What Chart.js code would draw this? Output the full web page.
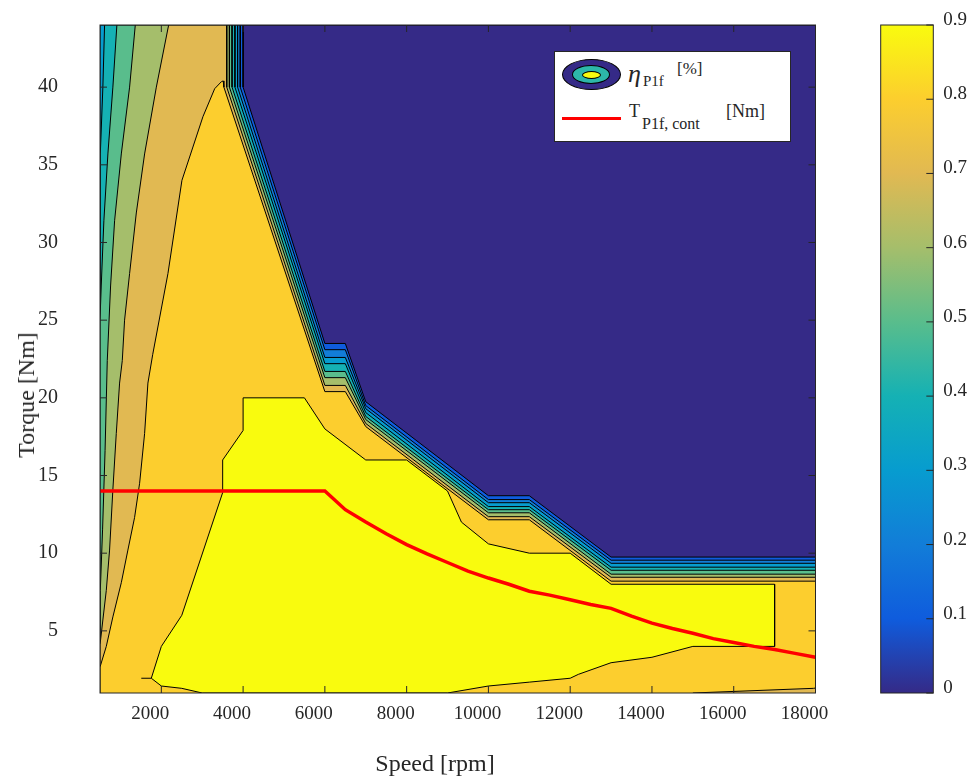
<!DOCTYPE html>
<html>
<head>
<meta charset="UTF-8">
<title>Efficiency map</title>
<script src="https://cdn.jsdelivr.net/npm/chart.js"></script>
<style>
  body { margin: 0; background: #fff; }
  #wrap { position: relative; width: 975px; height: 778px; font-family: 'Liberation Serif', 'Times New Roman', serif; color: #262626; }
  #main { position: absolute; left: 0; top: 0; }
  #cbar { position: absolute; left: 860px; top: 0; }
  .axtitle { position: absolute; font-size: 24px; line-height: 1; white-space: nowrap; transform: translate(-50%, -50%); }
  .axtitle.vert { transform: translate(-50%, -50%) rotate(-90deg); }
  .legend { position: absolute; left: 554px; top: 51px; width: 237px; height: 91px; background: #fff; border: 1px solid #262626; box-sizing: border-box; }
  .legend span { position: absolute; line-height: 1; white-space: nowrap; color: #262626; }
  .ell { position: absolute; border: 1.5px solid #000; border-radius: 50%; box-sizing: border-box; }
</style>
</head>
<body>
<div id="wrap">
  <canvas id="main" width="860" height="778"></canvas>
  <canvas id="cbar" width="115" height="778"></canvas>
  <div class="axtitle" style="left:435px;top:763px;">Speed [rpm]</div>
  <div class="axtitle vert" style="left:26px;top:395px;">Torque [Nm]</div>
  <div class="legend">
    <div class="ell" style="left:7px;top:7px;width:59px;height:31px;background:#352a87;"></div>
    <div class="ell" style="left:17px;top:13px;width:38px;height:19px;background:#2db7a9;"></div>
    <div class="ell" style="left:27px;top:19px;width:19px;height:8px;background:#f9fb0e;"></div>
    <span style="left:73px;top:9px;font-size:26px;font-style:italic;">&eta;</span>
    <span style="left:88px;top:22px;font-size:15px;">P1f</span>
    <span style="left:122px;top:8px;font-size:17px;">[%]</span>
    <div style="position:absolute;left:7px;top:65px;width:59px;height:3px;background:#ff0000;"></div>
    <span style="left:74px;top:50px;font-size:18px;">T</span>
    <span style="left:87px;top:64px;font-size:16px;">P1f, cont</span>
    <span style="left:171px;top:50px;font-size:18px;">[Nm]</span>
  </div>
</div>
<script>
// axis ticks
const xTicks = [2000, 4000, 6000, 8000, 10000, 12000, 14000, 16000, 18000];
const yTicks = [5, 10, 15, 20, 25, 30, 35, 40];
const cbTicks = [0, 0.1, 0.2, 0.3, 0.4, 0.5, 0.6, 0.7, 0.8, 0.9];

// contour levels and their parula colours
const levels = [0, 0.1, 0.2, 0.3, 0.4, 0.5, 0.6, 0.7, 0.8, 0.9];
const levelColors = ['#352a87', '#0f5cdd', '#127dd8', '#079ccf', '#15b1b4', '#59bd8c', '#a5be6b', '#e1b952', '#fcce2e', '#f9fb0e'];

// region where efficiency >= level, [speed rpm, torque Nm]
const eta00 = [[500, 1], [500, 44], [18000, 44], [18000, 1]];
const eta01 = [[500, 1], [500, 44], [4000, 44], [4000, 40], [6000, 23.5], [6500, 23.5], [7000, 19.75], [10000, 13.7], [11000, 13.7], [13000, 9.75], [18000, 9.75], [18000, 1]];
const eta02 = [[500, 1], [500, 44], [3930, 44], [3930, 40], [6000, 23.1], [6500, 23.1], [7000, 19.5], [10000, 13.45], [11000, 13.45], [13000, 9.55], [18000, 9.55], [18000, 1]];
const eta03 = [[500, 1], [500, 44], [3865, 44], [3865, 40], [6000, 22.6], [6500, 22.6], [7000, 19.3], [10000, 13.25], [11000, 13.25], [13000, 9.35], [18000, 9.35], [18000, 1]];
const eta04 = [[500, 1], [500, 33.6], [515, 35.7], [570, 40], [612, 44], [3800, 44], [3800, 40], [6000, 22.2], [6500, 22.2], [7000, 19.05], [10000, 13.0], [11000, 13.0], [13000, 9.1], [18000, 9.1], [18000, 1]];
const eta05 = [[500, 1], [500, 25], [530, 27.2], [595, 31.4], [693, 35.7], [815, 40], [913, 44], [3730, 44], [3730, 40], [6000, 21.7], [6500, 21.7], [7000, 18.8], [10000, 12.8], [11000, 12.8], [13000, 8.9], [18000, 8.9], [18000, 1]];
const eta06 = [[500, 1], [500, 6.0], [515, 7.6], [563, 11.5], [624, 16.6], [678, 22.4], [759, 27.2], [857, 31.4], [1021, 35.7], [1224, 40], [1363, 44], [3665, 44], [3665, 40], [6000, 21.3], [6500, 21.3], [7000, 18.6], [10000, 12.6], [11000, 12.6], [13000, 8.65], [18000, 8.65], [18000, 1]];
const eta07 = [[500, 1], [500, 4.1], [570, 5.7], [654, 7.6], [734, 10.2], [815, 14.1], [898, 17.7], [979, 20.95], [1045, 22.4], [1101, 25], [1224, 28], [1388, 31.9], [1591, 35.7], [1878, 40], [2179, 44], [3600, 44], [3600, 40], [6000, 20.8], [6500, 20.8], [7000, 18.35], [10000, 12.35], [11000, 12.35], [13000, 8.45], [18000, 8.45], [18000, 1]];
const eta08 = [[500, 1], [500, 2.67], [654, 4.0], [815, 5.9], [1021, 8.1], [1182, 10.2], [1346, 12.3], [1469, 14.5], [1591, 17.7], [1672, 20.95], [1790, 22.8], [2162, 28], [2504, 34], [3018, 38.1], [3305, 39.9], [3469, 40.35], [3513, 40.4], [3530, 40], [6000, 20.4], [6500, 20.4], [7000, 18.15], [10000, 12.15], [11000, 12.15], [13000, 8.2], [18000, 8.2], [18000, 1.32], [17950, 1.3], [15000, 1]];
const eta09 = [[1510, 1.95], [1755, 1.95], [2000, 4], [2500, 6], [3500, 13.9], [3500, 16], [4000, 17.9], [4000, 20], [5500, 20], [6000, 18], [7000, 16], [8000, 16], [9000, 14], [9340, 12], [10000, 10.6], [11000, 10], [12000, 10], [13000, 8], [17000, 8], [17000, 4], [15000, 4], [14000, 3.3], [13000, 2.95], [12200, 2.2], [12000, 1.95], [11000, 1.7], [10000, 1.45], [9000, 1], [3000, 1], [2500, 1.3], [2000, 1.45], [1755, 1.95]];
const etaRegions = [eta00, eta01, eta02, eta03, eta04, eta05, eta06, eta07, eta08, eta09];

// continuous torque limit
const speedCont = [500, 6000, 6500, 7000, 7500, 8000, 8500, 9000, 9500, 10000, 10500, 11000, 11500, 12000, 12500, 13000, 13500, 14000, 14500, 15000, 15500, 16000, 16500, 17000, 17500, 18000];
const torqueCont = [14, 14, 12.8, 12.0, 11.25, 10.55, 9.95, 9.4, 8.85, 8.4, 8.0, 7.55, 7.3, 7.0, 6.7, 6.45, 5.95, 5.5, 5.15, 4.85, 4.5, 4.25, 4.0, 3.8, 3.55, 3.3];

const axisColor = '#262626';
const serif = "'Liberation Serif', 'Times New Roman', serif";

const datasets = etaRegions.map((pts, i) => ({
    label: 'eta ' + levels[i],
    data: pts.map(p => ({ x: p[0], y: p[1] })),
    showLine: true,
    fill: 'shape',
    backgroundColor: levelColors[i],
    borderColor: '#000',
    borderWidth: 1,
    pointRadius: 0,
    order: 20 - i
}));
datasets.push({
    label: 'T cont',
    data: speedCont.map((s, i) => ({ x: s, y: torqueCont[i] })),
    showLine: true,
    fill: false,
    borderColor: '#ff0000',
    borderWidth: 3.5,
    pointRadius: 0,
    order: 0
});

// MATLAB style box with inward ticks
const boxTicks = {
    id: 'boxTicks',
    afterDatasetsDraw(chart) {
        const { ctx, chartArea: a, scales: { x, y } } = chart;
        ctx.save();
        ctx.strokeStyle = axisColor;
        ctx.lineWidth = 1;
        ctx.strokeRect(a.left, a.top, a.right - a.left, a.bottom - a.top);
        ctx.beginPath();
        xTicks.forEach(v => {
            const px = x.getPixelForValue(v);
            ctx.moveTo(px, a.bottom); ctx.lineTo(px, a.bottom - 7);
            ctx.moveTo(px, a.top); ctx.lineTo(px, a.top + 7);
        });
        yTicks.forEach(v => {
            const py = y.getPixelForValue(v);
            ctx.moveTo(a.left, py); ctx.lineTo(a.left + 7, py);
            ctx.moveTo(a.right, py); ctx.lineTo(a.right - 7, py);
        });
        ctx.stroke();
        ctx.restore();
    }
};

new Chart(document.getElementById('main'), {
    type: 'scatter',
    data: { datasets },
    options: {
        responsive: false,
        animation: false,
        layout: { padding: { top: 25, right: 44.5, left: 0, bottom: 0 } },
        plugins: { legend: { display: false }, tooltip: { enabled: false } },
        scales: {
            x: {
                type: 'linear', min: 500, max: 18000,
                afterBuildTicks: s => { s.ticks = xTicks.map(v => ({ value: v })); },
                afterFit: s => { s.height = 85; },
                grid: { display: false, drawTicks: false },
                border: { display: false },
                ticks: { color: axisColor, font: { family: serif, size: 19 }, padding: 10, labelOffset: -11, maxRotation: 0, callback: v => String(v) }
            },
            y: {
                type: 'linear', min: 1, max: 44,
                afterBuildTicks: s => { s.ticks = yTicks.map(v => ({ value: v })); },
                afterFit: s => { s.width = 100; s.paddingTop = 0; s.paddingBottom = 0; },
                grid: { display: false, drawTicks: false },
                border: { display: false },
                ticks: { color: axisColor, font: { family: serif, size: 20 }, padding: 42, callback: v => String(v) }
            }
        }
    },
    plugins: [boxTicks]
});

// colorbar
const cbBox = {
    id: 'cbBox',
    afterDatasetsDraw(chart) {
        const { ctx, chartArea: a, scales: { y } } = chart;
        ctx.save();
        ctx.strokeStyle = axisColor;
        ctx.lineWidth = 1;
        ctx.strokeRect(a.left, a.top, a.right - a.left, a.bottom - a.top);
        ctx.beginPath();
        cbTicks.forEach(v => {
            const py = y.getPixelForValue(v);
            ctx.moveTo(a.right, py); ctx.lineTo(a.right - 7, py);
        });
        ctx.stroke();
        ctx.restore();
    }
};

new Chart(document.getElementById('cbar'), {
    type: 'bar',
    data: {
        labels: [''],
        datasets: [{
            data: [[levels[0], levels[levels.length - 1]]],
            backgroundColor: c => {
                const area = c.chart.chartArea;
                if (!area) return levelColors[0];
                const g = c.chart.ctx.createLinearGradient(0, area.bottom, 0, area.top);
                levelColors.forEach((col, i) => g.addColorStop(i / (levelColors.length - 1), col));
                return g;
            },
            borderWidth: 0,
            barPercentage: 1,
            categoryPercentage: 1
        }]
    },
    options: {
        responsive: false,
        animation: false,
        layout: { padding: { top: 25, left: 20.7, bottom: 85, right: 0 } },
        plugins: { legend: { display: false }, tooltip: { enabled: false } },
        scales: {
            x: { display: false },
            y: {
                position: 'right', min: 0, max: 0.9,
                afterBuildTicks: s => { s.ticks = cbTicks.map(v => ({ value: v })); },
                afterFit: s => { s.width = 41.7; },
                grid: { display: false, drawTicks: false },
                border: { display: false },
                ticks: { color: axisColor, font: { family: serif, size: 19 }, padding: 10, labelOffset: -5, callback: v => String(v) }
            }
        }
    },
    plugins: [cbBox]
});
</script>
</body>
</html>
